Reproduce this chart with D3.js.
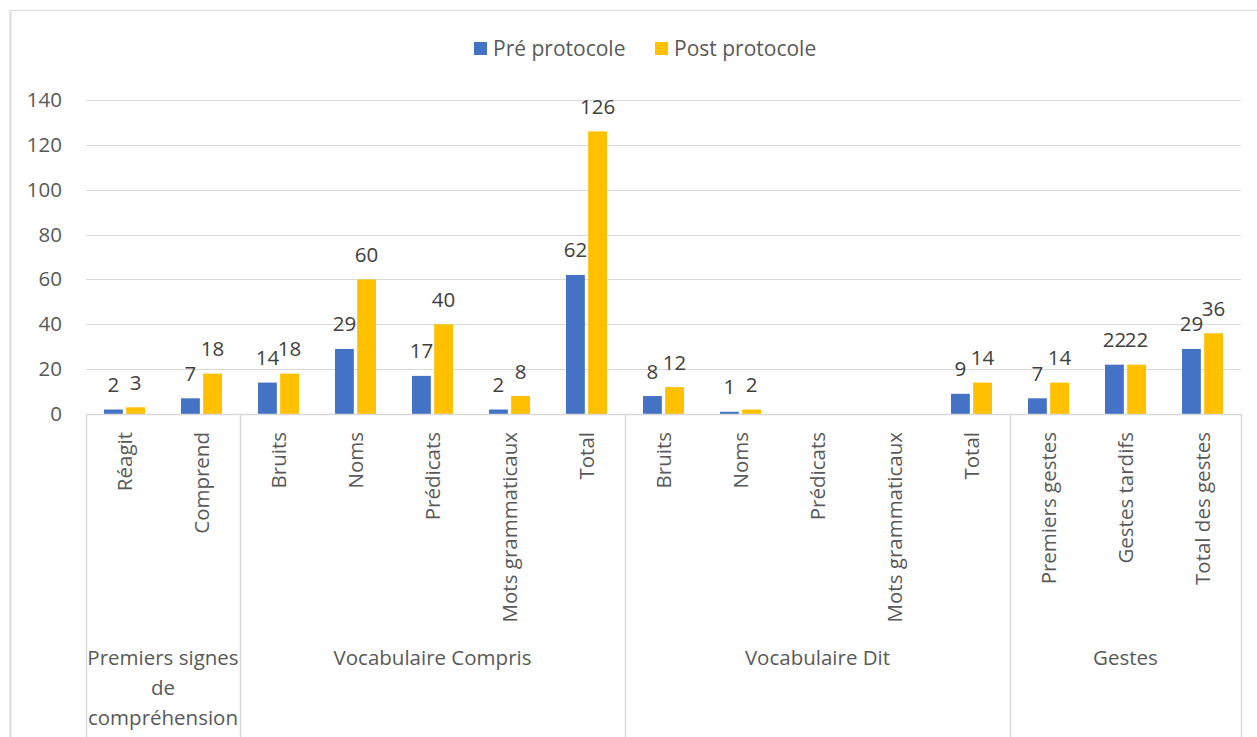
<!DOCTYPE html>
<html>
<head>
<meta charset="utf-8">
<script src="https://cdn.jsdelivr.net/npm/d3@7"></script>
<style>
  body { margin: 0; background: #fff; }
  text { font-family: "Open Sans", "Noto Sans", sans-serif; }
</style>
</head>
<body>
<svg id="chart" width="1257" height="737"></svg>
<script>
// categories (two levels) and the two series
const groups = ['Premiers signes de compréhension', 'Vocabulaire Compris', 'Vocabulaire Dit', 'Gestes'];
const groupLines = [['Premiers signes', 'de', 'compréhension'], ['Vocabulaire Compris'], ['Vocabulaire Dit'], ['Gestes']];
const groupSizes = [2, 5, 5, 3];
const categories = ['Réagit', 'Comprend',
  'Bruits', 'Noms', 'Prédicats', 'Mots grammaticaux', 'Total',
  'Bruits', 'Noms', 'Prédicats', 'Mots grammaticaux', 'Total',
  'Premiers gestes', 'Gestes tardifs', 'Total des gestes'];
const series = ['Pré protocole', 'Post protocole'];
const preValues  = [2, 7, 14, 29, 17, 2, 62, 8, 1, null, null, 9, 7, 22, 29];
const postValues = [3, 18, 18, 60, 40, 8, 126, 12, 2, null, null, 14, 14, 22, 36];
const yTicks = [0, 20, 40, 60, 80, 100, 120, 140];
const colors = ['#4472C4', '#FFC000'];

const svg = d3.select('#chart');
const margin = {left: 86, right: 16, top: 100, bottom: 323};
const width = +svg.attr('width');
const height = +svg.attr('height');
const plotBottom = height - margin.bottom;
const grid = '#d9d9d9';

// outer chart frame
svg.append('line').attr('x1', 10.5).attr('x2', 10.5).attr('y1', 10).attr('y2', height)
  .attr('stroke', grid).attr('stroke-width', 2);
svg.append('line').attr('x1', 10).attr('x2', width).attr('y1', 10.5).attr('y2', 10.5)
  .attr('stroke', grid);

const idx = categories.map((c, i) => i);
const x0 = d3.scaleBand().domain(idx).range([margin.left, width - margin.right]);
const x1 = d3.scaleBand().domain(series).range([18, 59]).paddingInner(0.15);
const y = d3.scaleLinear().domain([0, 140]).range([plotBottom, margin.top]);

// gridlines
svg.append('g').selectAll('line').data(yTicks.slice(1)).join('line')
  .attr('x1', margin.left).attr('x2', width - margin.right)
  .attr('y1', d => Math.round(y(d)) + 0.5).attr('y2', d => Math.round(y(d)) + 0.5)
  .attr('stroke', grid);

// y axis labels
const yAxis = svg.append('g')
  .attr('transform', `translate(${margin.left - 24},0)`)
  .call(d3.axisLeft(y).tickValues(yTicks).tickSize(0).tickPadding(0));
yAxis.select('.domain').remove();
yAxis.selectAll('text')
  .attr('font-size', 20.5).attr('fill', '#595959')
  .attr('font-family', '"Open Sans", sans-serif');

// bars
const data = idx.map(i => ({i, vals: [preValues[i], postValues[i]]}));
const cat = svg.append('g').selectAll('g').data(data).join('g')
  .attr('transform', d => `translate(${x0(d.i)},0)`);

cat.selectAll('rect')
  .data(d => d.vals.map((v, k) => ({v, k})).filter(e => e.v !== null))
  .join('rect')
  .attr('x', e => x1(series[e.k]))
  .attr('width', x1.bandwidth())
  .attr('y', e => y(e.v))
  .attr('height', e => y(0) - y(e.v))
  .attr('fill', e => colors[e.k]);

cat.selectAll('text.val')
  .data(d => d.vals.map((v, k) => ({v, k})).filter(e => e.v !== null))
  .join('text')
  .attr('class', 'val')
  .attr('x', e => x1(series[e.k]) + x1.bandwidth() / 2)
  .attr('y', e => y(e.v) - 17.5)
  .attr('text-anchor', 'middle')
  .attr('font-size', 20.5)
  .attr('fill', '#404040')
  .text(e => e.v);

// category axis line
svg.append('line')
  .attr('x1', margin.left).attr('x2', width - margin.right)
  .attr('y1', plotBottom + 0.5).attr('y2', plotBottom + 0.5)
  .attr('stroke', grid).attr('stroke-width', 1.5);

// rotated category labels
svg.append('g').selectAll('text').data(idx).join('text')
  .attr('transform', i => `translate(${x0(i) + x0.bandwidth() / 2},${plotBottom + 18}) rotate(-90)`)
  .attr('text-anchor', 'end')
  .attr('dy', '0.35em')
  .attr('font-size', 20.5)
  .attr('fill', '#595959')
  .text(i => categories[i]);

// group separators and labels
let start = 0;
const bounds = [];
groupSizes.forEach(n => { bounds.push([start, start + n]); start += n; });
const sepX = [margin.left].concat(bounds.map(b => x0(b[1] - 1) + x0.bandwidth()));
svg.append('g').selectAll('line').data(sepX).join('line')
  .attr('x1', d => Math.round(d) + 0.5).attr('x2', d => Math.round(d) + 0.5)
  .attr('y1', plotBottom).attr('y2', height)
  .attr('stroke', grid).attr('stroke-width', 1.5);

const gl = svg.append('g').selectAll('text').data(groups).join('text')
  .attr('text-anchor', 'middle')
  .attr('font-size', 20.5)
  .attr('fill', '#595959');
gl.each(function(g, gi) {
  const cx = (x0(bounds[gi][0]) + x0(bounds[gi][1] - 1) + x0.bandwidth()) / 2;
  d3.select(this).selectAll('tspan').data(groupLines[gi]).join('tspan')
    .attr('x', cx)
    .attr('y', (d, j) => 665 + j * 30)
    .text(d => d);
});

// legend
const legendX = [474, 655];
const legend = svg.append('g').selectAll('g').data(series).join('g')
  .attr('transform', (d, k) => `translate(${legendX[k]},42)`);
legend.append('rect').attr('width', 13).attr('height', 13).attr('fill', (d, k) => colors[k]);
legend.append('text').attr('x', 19).attr('y', 13.5)
  .attr('font-size', 21).attr('fill', '#595959').text(d => d);
</script>
</body>
</html>
